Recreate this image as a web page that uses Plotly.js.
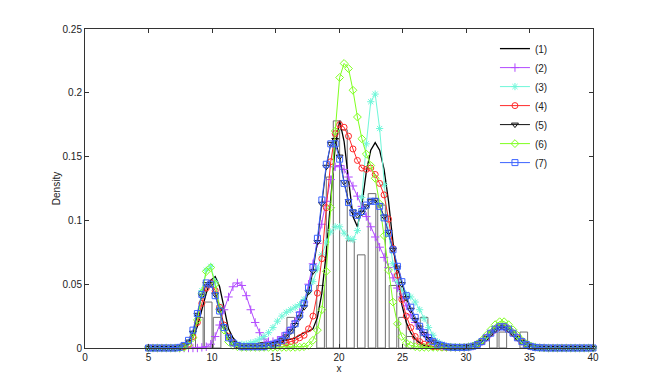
<!DOCTYPE html>
<html>
<head>
<meta charset="utf-8">
<script src="https://cdn.plot.ly/plotly-3.0.1.min.js"></script>
<style>
  body { margin: 0; background: #fff; }
  #chart { width: 654px; height: 392px; }
</style>
</head>
<body>
<div id="chart"></div>
<script>
// grid of x values where every density curve was evaluated
const xs = [
  5, 5.35, 5.7, 6.05, 6.4, 6.75, 7.1, 7.45, 7.8, 8.15,
  8.5, 8.85, 9.2, 9.55, 9.9, 10.25, 10.6, 10.95, 11.3, 11.65,
  12, 12.35, 12.7, 13.05, 13.4, 13.75, 14.1, 14.45, 14.8, 15.15,
  15.5, 15.85, 16.2, 16.55, 16.9, 17.25, 17.6, 17.95, 18.3, 18.65,
  19, 19.35, 19.7, 20.05, 20.4, 20.75, 21.1, 21.45, 21.8, 22.15,
  22.5, 22.85, 23.2, 23.55, 23.9, 24.25, 24.6, 24.95, 25.3, 25.65,
  26, 26.35, 26.7, 27.05, 27.4, 27.75, 28.1, 28.45, 28.8, 29.15,
  29.5, 29.85, 30.2, 30.55, 30.9, 31.25, 31.6, 31.95, 32.3, 32.65,
  33, 33.35, 33.7, 34.05, 34.4, 34.75, 35.1, 35.45, 35.8, 36.15,
  36.5, 36.85, 37.2, 37.55, 37.9, 38.25, 38.6, 38.95, 39.3, 39.65,
  40
];

const zeros11 = [0, 0, 0, 0, 0, 0, 0, 0, 0, 0, 0];

const dens1 = [
  0, 0, 0, 0, 0, 0, 0, 0.0005, 0.001, 0.003,
  0.008, 0.017, 0.030, 0.043, 0.053, 0.056, 0.048, 0.030, 0.015, 0.008,
  0.004, 0.003, 0.003, 0.003, 0.003, 0.004, 0.004, 0.004, 0.005, 0.005,
  0.006, 0.006, 0.007, 0.008, 0.010, 0.012, 0.013, 0.015, 0.024, 0.043,
  0.075, 0.115, 0.158, 0.178, 0.162, 0.132, 0.103, 0.095, 0.112, 0.138,
  0.155, 0.161, 0.155, 0.140, 0.115, 0.083, 0.055, 0.034, 0.020, 0.012,
  0.007, 0.004, 0.002, 0.001, 0.001, 0.0005, 0.0005, 0.0005, 0.0005, 0.0005,
  0.0005, 0.0005, 0.0007, 0.0014, 0.0027, 0.0047, 0.0076, 0.011, 0.014, 0.0158,
  0.0158, 0.014, 0.011, 0.0076, 0.0047, 0.0027, 0.0014, 0.0006, 0.0002, 0.0001
].concat(zeros11);

const dens2 = [
  0, 0, 0, 0, 0, 0, 0, 0, 0, 0,
  0, 0, 0.0005, 0.001, 0.003, 0.009, 0.018, 0.030, 0.040, 0.048,
  0.051, 0.049, 0.041, 0.030, 0.020, 0.012, 0.007, 0.005, 0.005, 0.006,
  0.009, 0.012, 0.016, 0.021, 0.028, 0.036, 0.050, 0.066, 0.082, 0.097,
  0.115, 0.132, 0.142, 0.143, 0.140, 0.134, 0.127, 0.119, 0.111, 0.103,
  0.095, 0.087, 0.079, 0.071, 0.063, 0.055, 0.047, 0.040, 0.033, 0.026,
  0.020, 0.015, 0.011, 0.008, 0.005, 0.003, 0.002, 0.001, 0.0007, 0.0005,
  0.0004, 0.0005, 0.0007, 0.0014, 0.0028, 0.0049, 0.008, 0.0115, 0.0145, 0.0163,
  0.0165, 0.015, 0.012, 0.0083, 0.0052, 0.0029, 0.0014, 0.0006, 0.0002, 0.0001
].concat(zeros11);

const dens3 = [
  0, 0, 0, 0, 0, 0, 0, 0.0003, 0.001, 0.004,
  0.011, 0.025, 0.045, 0.061, 0.064, 0.052, 0.033, 0.017, 0.008, 0.004,
  0.003, 0.003, 0.003, 0.004, 0.005, 0.007, 0.009, 0.012, 0.016, 0.021,
  0.025, 0.028, 0.030, 0.032, 0.034, 0.038, 0.044, 0.052, 0.062, 0.073,
  0.083, 0.091, 0.095, 0.095, 0.090, 0.086, 0.085, 0.092, 0.118, 0.160,
  0.193, 0.199, 0.172, 0.128, 0.090, 0.066, 0.052, 0.045, 0.042, 0.040,
  0.036, 0.030, 0.023, 0.016, 0.010, 0.005, 0.003, 0.0015, 0.0008, 0.0005,
  0.0004, 0.0004, 0.0007, 0.0014, 0.0028, 0.005, 0.0082, 0.012, 0.0152, 0.0172,
  0.0172, 0.0152, 0.012, 0.0082, 0.005, 0.0028, 0.0014, 0.0006, 0.0002, 0.0001
].concat(zeros11);

const dens4 = [
  0, 0, 0, 0, 0, 0, 0, 0.0003, 0.001, 0.003,
  0.009, 0.020, 0.035, 0.047, 0.051, 0.045, 0.032, 0.018, 0.009, 0.004,
  0.002, 0.001, 0.001, 0.001, 0.001, 0.001, 0.001, 0.002, 0.002, 0.002,
  0.003, 0.004, 0.005, 0.006, 0.008, 0.010, 0.015, 0.025, 0.043, 0.070,
  0.110, 0.146, 0.168, 0.175, 0.173, 0.166, 0.156, 0.147, 0.141, 0.140,
  0.141, 0.136, 0.129, 0.120, 0.101, 0.078, 0.057, 0.038, 0.025, 0.016,
  0.009, 0.005, 0.003, 0.002, 0.001, 0.001, 0.0005, 0.0005, 0.0005, 0.0005,
  0.0005, 0.0005, 0.0007, 0.0014, 0.0028, 0.0049, 0.008, 0.0116, 0.0148, 0.0167,
  0.0167, 0.0148, 0.0116, 0.008, 0.0049, 0.0027, 0.0013, 0.0005, 0.0002, 0.0001
].concat(zeros11);

const dens5 = [
  0, 0, 0, 0, 0, 0, 0, 0.0005, 0.002, 0.005,
  0.012, 0.026, 0.041, 0.050, 0.050, 0.042, 0.030, 0.017, 0.009, 0.004,
  0.002, 0.001, 0.001, 0.001, 0.001, 0.001, 0.001, 0.002, 0.003, 0.004,
  0.006, 0.009, 0.013, 0.018, 0.024, 0.032, 0.044, 0.060, 0.083, 0.113,
  0.142, 0.160, 0.163, 0.150, 0.130, 0.115, 0.107, 0.104, 0.106, 0.111,
  0.115, 0.116, 0.112, 0.103, 0.091, 0.077, 0.063, 0.050, 0.039, 0.030,
  0.022, 0.016, 0.011, 0.007, 0.005, 0.003, 0.002, 0.001, 0.0006, 0.0005,
  0.0005, 0.0005, 0.0007, 0.0014, 0.0027, 0.0048, 0.0078, 0.0113, 0.0144, 0.0162,
  0.0162, 0.0144, 0.0113, 0.0078, 0.0048, 0.0027, 0.0013, 0.0005, 0.0002, 0.0001
].concat(zeros11);

const dens6 = [
  0, 0, 0, 0, 0, 0, 0, 0, 0.0005, 0.002,
  0.008, 0.022, 0.043, 0.060, 0.063, 0.050, 0.030, 0.014, 0.005, 0.002,
  0.001, 0.0005, 0.0005, 0.0005, 0.0005, 0.0005, 0.0005, 0.0005, 0.0005, 0.0005,
  0.0005, 0.0005, 0.0005, 0.0005, 0.0007, 0.001, 0.002, 0.006, 0.014, 0.030,
  0.060, 0.110, 0.170, 0.212, 0.223, 0.219, 0.202, 0.181, 0.164, 0.152,
  0.143, 0.133, 0.113, 0.088, 0.061, 0.036, 0.019, 0.009, 0.004, 0.002,
  0.001, 0.0005, 0.0005, 0.0005, 0.0005, 0.0005, 0.0005, 0.0005, 0.0005, 0.0005,
  0.0005, 0.0005, 0.0008, 0.0016, 0.0033, 0.006, 0.0099, 0.0143, 0.0183, 0.0206,
  0.0206, 0.0183, 0.0143, 0.0099, 0.006, 0.0033, 0.0016, 0.0006, 0.0002, 0.0001
].concat(zeros11);

const dens7 = [
  0, 0, 0, 0, 0, 0, 0, 0.0005, 0.002, 0.006,
  0.014, 0.027, 0.042, 0.051, 0.050, 0.041, 0.029, 0.016, 0.008, 0.004,
  0.002, 0.001, 0.001, 0.001, 0.001, 0.001, 0.001, 0.002, 0.003, 0.004,
  0.006, 0.010, 0.014, 0.019, 0.026, 0.035, 0.047, 0.063, 0.086, 0.116,
  0.144, 0.160, 0.160, 0.148, 0.129, 0.114, 0.106, 0.104, 0.107, 0.112,
  0.115, 0.115, 0.111, 0.102, 0.090, 0.077, 0.064, 0.052, 0.041, 0.032,
  0.024, 0.017, 0.012, 0.008, 0.005, 0.003, 0.002, 0.001, 0.0006, 0.0005,
  0.0005, 0.0005, 0.0007, 0.0014, 0.0028, 0.005, 0.008, 0.0116, 0.0148, 0.0166,
  0.0166, 0.0148, 0.0116, 0.008, 0.005, 0.0028, 0.0013, 0.0005, 0.0002, 0.0001
].concat(zeros11);

// histogram of the sample (bar centres and heights)
const histX = [9.0, 9.7, 10.4, 16.2, 18.55, 19.3, 19.85, 20.35, 20.9, 21.75, 22.6, 23.35, 24.25, 25.0, 25.6, 26.7, 32.15, 32.9, 34.55];
const histY = [0.024, 0.036, 0.024, 0.024, 0.049, 0.134, 0.178, 0.171, 0.084, 0.073, 0.121, 0.112, 0.049, 0.024, 0.009, 0.024, 0.0125, 0.0125, 0.0125];

const names = ["(1)", "(2)", "(3)", "(4)", "(5)", "(6)", "(7)"];
const xTicks = [0, 5, 10, 15, 20, 25, 30, 35, 40];
const yTicks = [0, 0.05, 0.1, 0.15, 0.2, 0.25];

const series = [dens1, dens2, dens3, dens4, dens5, dens6, dens7];
const looks = [
  { color: "#000000", symbol: null, width: 1.3 },
  { color: "#b24bff", symbol: "cross-thin-open", width: 1 },
  { color: "#6ff7d9", symbol: "asterisk-open", width: 1 },
  { color: "#ff2a2a", symbol: "circle-open", width: 1 },
  { color: "#111111", symbol: "triangle-down-open", width: 1 },
  { color: "#7fff1f", symbol: "diamond-open", width: 1 },
  { color: "#3c64ff", symbol: "square-open", width: 1 }
];

const hist = {
  type: "bar",
  x: histX,
  y: histY,
  width: 0.6,
  marker: { color: "#ffffff", line: { color: "#6f6f6f", width: 1 } },
  showlegend: false,
  hoverinfo: "skip"
};

const data = [hist];
series.forEach((ys, k) => {
  const lk = looks[k];
  const tr = {
    type: "scatter",
    x: xs,
    y: ys,
    name: names[k],
    cliponaxis: false,
    line: { color: lk.color, width: lk.width }
  };
  if (lk.symbol) {
    tr.mode = "lines+markers";
    tr.marker = { symbol: lk.symbol, size: 6, color: lk.color, line: { color: lk.color, width: 1 } };
  } else {
    tr.mode = "lines";
  }
  data.push(tr);
});

const axisBase = {
  showgrid: false,
  zeroline: false,
  showline: true,
  linecolor: "#333",
  linewidth: 1,
  mirror: "ticks",
  ticks: "inside",
  ticklen: 4,
  tickcolor: "#333",
  tickfont: { size: 10, color: "#222" }
};

const layout = {
  width: 654,
  height: 392,
  margin: { l: 85, r: 61, t: 29, b: 44, pad: 0 },
  paper_bgcolor: "#ffffff",
  plot_bgcolor: "#ffffff",
  font: { family: "Liberation Sans, Arial, sans-serif", size: 10, color: "#222" },
  barmode: "overlay",
  xaxis: Object.assign({}, axisBase, {
    range: [0, 40],
    tickvals: xTicks,
    ticktext: xTicks.map(String),
    title: { text: "x", font: { size: 10 }, standoff: 2 }
  }),
  yaxis: Object.assign({}, axisBase, {
    range: [0, 0.25],
    tickvals: yTicks,
    ticktext: yTicks.map(String),
    title: { text: "Density", font: { size: 10 }, standoff: 0 }
  }),
  showlegend: true,
  legend: {
    x: 0.807,
    y: 0.984,
    xanchor: "left",
    yanchor: "top",
    bgcolor: "rgba(0,0,0,0)",
    borderwidth: 0,
    font: { size: 10, color: "#222" },
    tracegroupgap: 0
  }
};

Plotly.newPlot("chart", data, layout, { displayModeBar: false, staticPlot: true });
</script>
</body>
</html>
